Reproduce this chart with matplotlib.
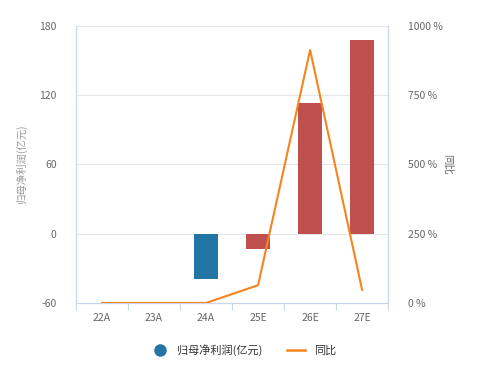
import numpy as np
import matplotlib
matplotlib.use("Agg")
from matplotlib import pyplot as plt
from matplotlib.lines import Line2D

plt.rcParams['font.family'] = ['Noto Sans CJK SC', 'DejaVu Sans']
plt.rcParams['axes.unicode_minus'] = False

years = ["22A", "23A", "24A", "25E", "26E", "27E"]
profit = [np.nan, np.nan, -39, -13.5, 113.5, 168]
yoy = [0, 0, 0, 64, 913, 47]

c_bar_act = "#2176a3"
c_bar_est = "#c0504d"
c_line = "#f5841f"
c_axis = "#ccd6eb"
c_text = "#666666"

fig = plt.figure(figsize=(4.87, 3.65), dpi=100)
ax = fig.add_axes([0.156, 0.170, 0.641, 0.759])
ax2 = ax.twinx()

x = np.arange(len(years))
# actual years in blue, estimates in red
colors = [c_bar_act if y.endswith("A") else c_bar_est for y in years]
ax.bar(x, profit, width=0.46, color=colors, zorder=3)
ax.set_xlim(-0.5, len(years) - 0.5)
ax.set_ylim(-60, 180)
ax.set_yticks([-60, 0, 60, 120, 180])
ax.grid(axis='y', color="#e6e6e6", linewidth=0.8, zorder=0)
ax.set_axisbelow(True)

ax2.plot(x, yoy, color=c_line, linewidth=1.5, zorder=4)
ax2.set_ylim(0, 1000)
ax2.set_yticks([0, 250, 500, 750, 1000])
ax2.set_yticklabels([f"{v} %" for v in [0, 250, 500, 750, 1000]])

ax.set_xticks(x)
ax.set_xticklabels(years)
ax.set_xticks(np.arange(-0.5, len(years)), minor=True)
ax.tick_params(axis='x', which='major', length=0, pad=7, labelsize=7.5, labelcolor=c_text)
ax.tick_params(axis='x', which='minor', length=5, color=c_axis, width=0.8)
ax.tick_params(axis='y', length=0, pad=14, labelsize=7.5, labelcolor=c_text)
ax2.tick_params(axis='y', length=0, pad=14, labelsize=7.5, labelcolor=c_text)

for a in (ax, ax2):
    a.spines['top'].set_visible(False)
    for s in ('left', 'right', 'bottom'):
        a.spines[s].set_color(c_axis)
        a.spines[s].set_linewidth(0.8)

ax.set_ylabel("归母净利润(亿元)", fontsize=7.5, color="#999999", labelpad=9)
ax2.set_ylabel("同比", fontsize=7.5, color=c_text, rotation=270, labelpad=7)

handles = [
    Line2D([], [], marker='o', linestyle='none', markersize=8, color=c_bar_act),
    Line2D([], [], color=c_line, linewidth=1.8),
]
fig.legend(handles, ["归母净利润(亿元)", "同比"], loc='center', bbox_to_anchor=(0.5, 0.04),
           ncol=2, frameon=False, fontsize=8, handlelength=1.6, columnspacing=2.2,
           labelcolor="#333333")

fig.savefig("out.png", dpi=100)
